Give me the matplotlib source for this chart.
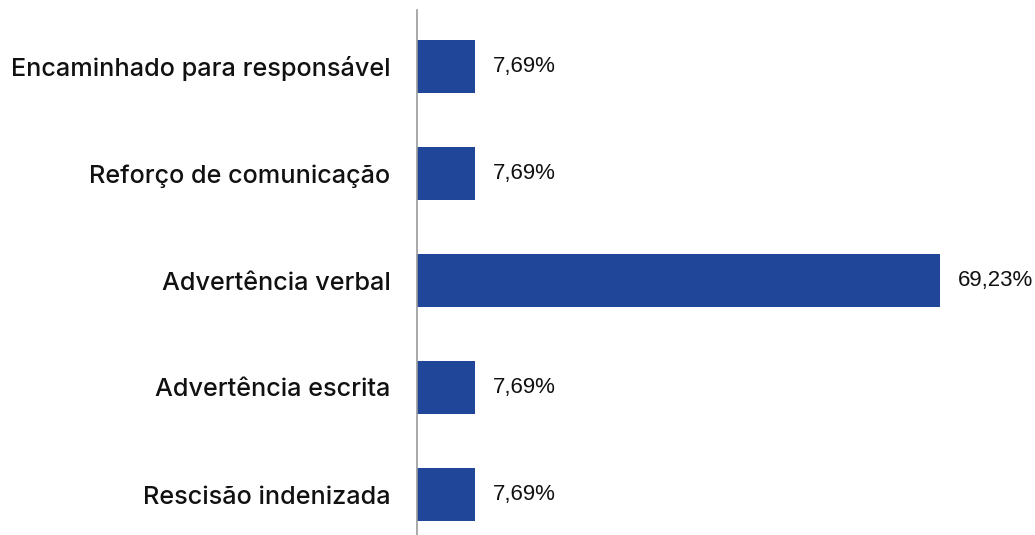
import matplotlib
matplotlib.use("Agg")
import matplotlib.pyplot as plt

categories = ["Encaminhado para responsável", "Reforço de comunicação", "Advertência verbal",
              "Advertência escrita", "Rescisão indenizada"]
values = [7.69, 7.69, 69.23, 7.69, 7.69]
value_labels = ["7,69%", "7,69%", "69,23%", "7,69%", "7,69%"]

W, H = 1035, 535
fig = plt.figure(figsize=(W / 100, H / 100), dpi=100)
left_px, right_px, top_px, bottom_px = 417, 1035, 10, 535
ax = fig.add_axes([left_px / W, 1 - bottom_px / H, (right_px - left_px) / W, (bottom_px - top_px) / H])

pos = list(range(len(categories)))
ax.barh(pos, values, height=0.5, color="#1F4699")

scale = (940 - 417) / 69.23
ax.set_xlim(0, (right_px - left_px) / scale)
sp = 107
ax.set_ylim((bottom_px - 66.5) / sp, -(66.5 - top_px) / sp)

for p, v, lab in zip(pos, values, value_labels):
    ax.annotate(lab, (v, p), xytext=(13, 0), textcoords="offset points", va="center", ha="left",
                fontsize=16, family="Liberation Sans", color="#111111")

ax.set_yticks(pos)
ax.set_yticklabels(categories, fontsize=18.2, family="Inter", fontweight="medium", color="#111111")
ax.tick_params(axis="y", length=0, pad=19)
ax.set_xticks([])
for s in ["top", "right", "bottom"]:
    ax.spines[s].set_visible(False)
ax.spines["left"].set_color("#999999")
ax.spines["left"].set_linewidth(1.2)

fig.savefig("out.png", dpi=100)
